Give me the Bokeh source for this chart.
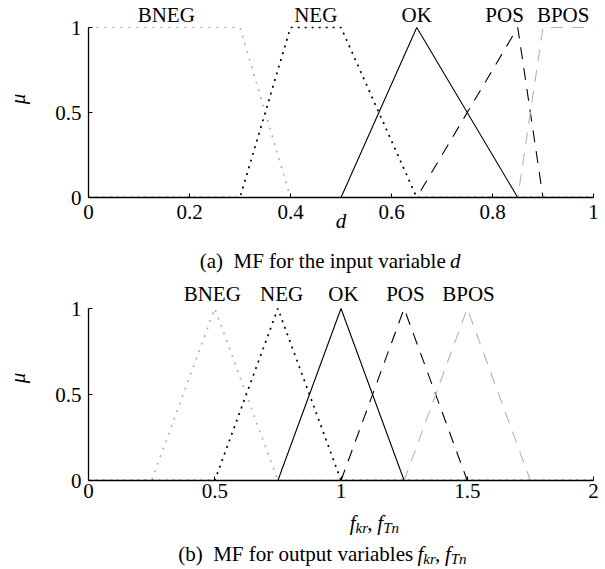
from bokeh.plotting import figure
from bokeh.models import Range1d, FixedTicker
from bokeh.layouts import column
from bokeh.core.properties import value
from bokeh.embed import file_html
from bokeh.resources import INLINE

SERIF = "Liberation Serif"
FS = "21px"
SUB = "15px"
GRAY = "#b4b4b4"
W = 605

# ---------------- data ----------------
mf_names = ["BNEG", "NEG", "OK", "POS", "BPOS"]

# (a) input variable d
d_bneg_x = [0, 0.3, 0.4, 1];            d_bneg_y = [1, 1, 0, 0]
d_neg_x = [0, 0.3, 0.4, 0.5, 0.65, 1];  d_neg_y = [0, 0, 1, 1, 0, 0]
d_ok_x = [0, 0.5, 0.65, 0.85, 1];       d_ok_y = [0, 0, 1, 0, 0]
d_pos_x = [0, 0.65, 0.85, 0.9, 1];      d_pos_y = [0, 0, 1, 0, 0]
d_bpos_x = [0, 0.85, 0.9, 1];           d_bpos_y = [0, 0, 1, 1]
d_label_x = [0.154, 0.45, 0.65, 0.824, 0.94]
d_ticks = [0, 0.2, 0.4, 0.6, 0.8, 1]
d_tick_labels = ["0", "0.2", "0.4", "0.6", "0.8", "1"]

# (b) output variables f_kr, f_Tn
f_bneg_x = [0, 0.25, 0.5, 0.75, 2];   f_bneg_y = [0, 0, 1, 0, 0]
f_neg_x = [0, 0.5, 0.75, 1, 2];       f_neg_y = [0, 0, 1, 0, 0]
f_ok_x = [0, 0.75, 1, 1.25, 2];       f_ok_y = [0, 0, 1, 0, 0]
f_pos_x = [0, 1, 1.25, 1.5, 2];       f_pos_y = [0, 0, 1, 0, 0]
f_bpos_x = [0, 1.25, 1.5, 1.75, 2];   f_bpos_y = [0, 0, 1, 0, 0]
f_label_x = [0.49, 0.765, 1.01, 1.255, 1.505]
f_ticks = [0, 0.5, 1, 1.5, 2]
f_tick_labels = ["0", "0.5", "1", "1.5", "2"]

mu_ticks = [0, 0.5, 1]
mu_tick_labels = ["0", "0.5", "1"]

caption_a = "(a)\u00a0 MF for the input variable"
caption_b = "(b)\u00a0 MF for output variables"

styles = [
    dict(line_color=GRAY, line_dash="2 6", line_width=1.7),
    dict(line_color="black", line_dash="2 5", line_width=1.7),
    dict(line_color="black", line_width=1.1),
    dict(line_color="black", line_dash="12 9", line_width=1.1),
    dict(line_color=GRAY, line_dash="12 9", line_width=1.1),
]


def make_fig(height, bottom, xmax, ymax, xticks, xlabels, xstandoff):
    p = figure(width=W, height=height, output_backend="svg", toolbar_location=None,
               x_range=Range1d(0, xmax), y_range=Range1d(0, ymax),
               min_border_left=88, min_border_right=12,
               min_border_top=0, min_border_bottom=bottom)
    p.outline_line_color = None
    p.grid.visible = False
    p.background_fill_color = None
    for ax in (p.xaxis[0], p.yaxis[0]):
        ax.axis_line_color = "black"
        ax.axis_line_width = 1.3
        ax.major_tick_in = 4
        ax.major_tick_out = 0
        ax.minor_tick_in = 0
        ax.minor_tick_out = 0
        ax.major_tick_line_color = "black"
        ax.major_label_text_font = SERIF
        ax.major_label_text_font_size = FS
        ax.major_label_text_color = "black"
        ax.axis_label_text_font = SERIF
        ax.axis_label_text_font_size = FS
        ax.axis_label_text_font_style = "italic"
        ax.axis_label_text_color = "black"
    p.xaxis.ticker = FixedTicker(ticks=xticks)
    p.xaxis.major_label_overrides = dict(zip(xticks, xlabels))
    p.xaxis.major_label_standoff = xstandoff
    p.yaxis.ticker = FixedTicker(ticks=mu_ticks)
    p.yaxis.major_label_overrides = dict(zip(mu_ticks, mu_tick_labels))
    p.yaxis.major_label_standoff = 7
    p.yaxis.bounds = (0, 1)
    p.yaxis.axis_label = "\u03bc"
    p.yaxis.axis_label_standoff = 22
    return p


def text_fig(height):
    t = figure(width=W, height=height, output_backend="svg", toolbar_location=None,
               x_range=Range1d(0, W), y_range=Range1d(height, 0), min_border=0,
               x_axis_location=None, y_axis_location=None)
    t.outline_line_color = None
    t.grid.visible = False
    return t


def put(fig, xs, ys, texts, size=FS, style="normal", align="center"):
    fig.text(x=xs, y=ys, text=texts, text_font=value(SERIF), text_font_size=value(size),
             text_font_style=style, text_align=align, text_baseline="middle",
             text_color="black")


def fsub(fig, x0, y0):
    # "f_kr, f_Tn" assembled from italic letters and lowered subscripts
    put(fig, [x0, x0 + 33], [y0, y0], ["f", "f"], style="italic", align="left")
    put(fig, [x0 + 7, x0 + 40], [y0 + 5, y0 + 5], ["kr", "Tn"], size=SUB,
        style="italic", align="left")
    put(fig, [x0 + 21], [y0], [","], align="left")


# ---------------- panel (a) ----------------
p1 = make_fig(245, 48, 1, 1 + 27 / 170, d_ticks, d_tick_labels, 7)
for xs, ys, st in zip([d_bneg_x, d_neg_x, d_ok_x, d_pos_x, d_bpos_x],
                      [d_bneg_y, d_neg_y, d_ok_y, d_pos_y, d_bpos_y], styles):
    p1.line(xs, ys, **st)
put(p1, d_label_x, [1.076] * len(mf_names), mf_names)
p1.xaxis.axis_label = "d"
p1.xaxis.axis_label_standoff = -13

cap1 = text_fig(30)
put(cap1, [428], [15], [caption_a], align="right")
put(cap1, [433], [15], ["d"], style="italic", align="left")

# ---------------- panel (b) ----------------
p2 = make_fig(234, 29, 2, 1 + 33 / 172, f_ticks, f_tick_labels, 3)
for xs, ys, st in zip([f_bneg_x, f_neg_x, f_ok_x, f_pos_x, f_bpos_x],
                      [f_bneg_y, f_neg_y, f_ok_y, f_pos_y, f_bpos_y], styles):
    p2.line(xs, ys, **st)
put(p2, f_label_x, [1.087] * len(mf_names), mf_names)

cap2 = text_fig(59)
fsub(cap2, 313, 13)
put(cap2, [389], [44], [caption_b], align="right")
fsub(cap2, 394, 44)

layout = column(p1, cap1, p2, cap2, spacing=0)
open("out.html", "w").write(file_html(layout, INLINE))
